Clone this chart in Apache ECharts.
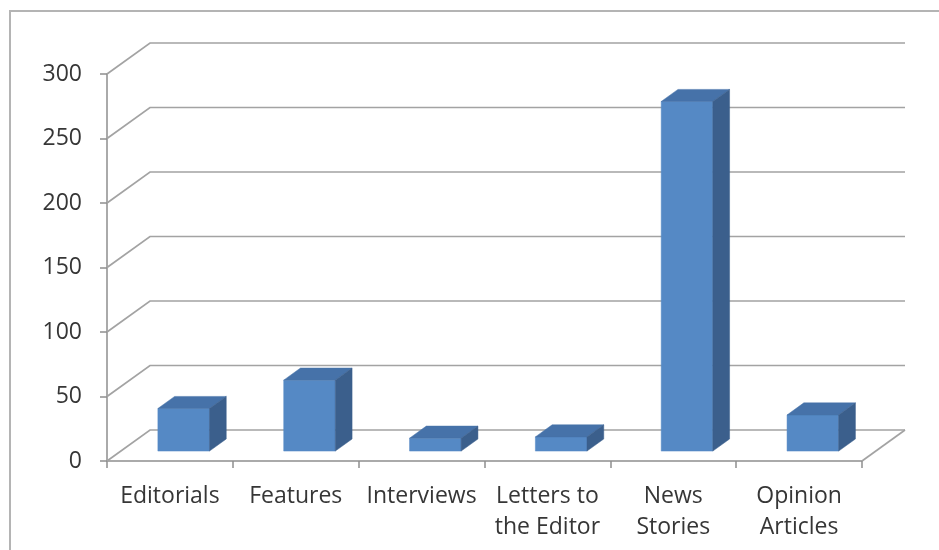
<!DOCTYPE html>
<html>
<head>
<meta charset="utf-8">
<script src="https://cdn.jsdelivr.net/npm/echarts@6/dist/echarts.min.js"></script>
<style>
  html, body { margin: 0; padding: 0; background: #ffffff; }
  #chart { width: 939px; height: 550px; }
</style>
</head>
<body>
<div id="chart"></div>
<script>
// Article counts by type
const categories = ['Editorials', 'Features', 'Interviews', 'Letters to\nthe Editor', 'News\nStories', 'Opinion\nArticles'];
const counts = [33, 55, 10, 11, 271, 28];
const yTicks = [0, 50, 100, 150, 200, 250, 300];

// Oblique projection of the chart depth (pixels for full depth)
const DEPTH_DX = 43;
const DEPTH_DY = -31;
const BAR_FRONT = 0.32;   // where the bar's front face sits in the depth
const BAR_DEPTH = 0.39;   // how deep each bar is
const BAR_WIDTH = 0.41;   // fraction of category band

const FONT = '"Open Sans", Lato, sans-serif';
const AXIS_GREY = '#8e8e8e';
const GRID_GREY = '#a3a3a3';

const colFront = '#5589c5';
const colTop = '#4672a9';
const colSide = '#3b5f8c';

const chart = echarts.init(document.getElementById('chart'), null, { renderer: 'canvas' });

function shift(p, f) {
  return [p[0] + DEPTH_DX * f, p[1] + DEPTH_DY * f];
}

chart.setOption({
  animation: false,
  backgroundColor: '#ffffff',
  graphic: [{
    type: 'rect',
    shape: { x: 10, y: 11, width: 1200, height: 1200 },
    style: { fill: 'none', stroke: '#b4b4b4', lineWidth: 2 },
    z: 0
  }],
  grid: { left: 107, right: 77, top: 74, bottom: 89 },
  xAxis: [{
    type: 'category',
    data: categories,
    boundaryGap: true,
    axisLine: { show: true, lineStyle: { color: AXIS_GREY, width: 1.5 } },
    axisTick: { show: true, length: 7, lineStyle: { color: AXIS_GREY, width: 1.5 } },
    axisLabel: {
      show: true, margin: 20, color: '#363636', fontSize: 23, fontFamily: FONT,
      lineHeight: 31, interval: 0
    },
    splitLine: { show: false }
  }, {
    type: 'value', min: 0, max: categories.length, show: false
  }],
  yAxis: {
    type: 'value', min: 0, max: 300, interval: 50,
    axisLine: { show: true, lineStyle: { color: AXIS_GREY, width: 1.5 } },
    axisTick: { show: true, length: 7, lineStyle: { color: AXIS_GREY, width: 1.5 } },
    axisLabel: { margin: 25, color: '#363636', fontSize: 23, fontFamily: FONT },
    splitLine: { show: false }
  },
  series: [{
    // back wall grid lines with their side diagonals, plus the floor
    type: 'custom',
    xAxisIndex: 1,
    clip: false,
    z: 1,
    data: yTicks.map(v => [0, v]),
    renderItem: function (params, api) {
      const v = api.value(1);
      const left = api.coord([0, v]);
      const right = api.coord([categories.length, v]);
      const children = [{
        type: 'polyline',
        shape: { points: [left, shift(left, 1), shift(right, 1)] },
        style: { stroke: GRID_GREY, lineWidth: 1.7, fill: 'none' }
      }];
      if (v === 0) {
        children.push({
          type: 'line',
          shape: { x1: right[0], y1: right[1], x2: shift(right, 1)[0], y2: shift(right, 1)[1] },
          style: { stroke: GRID_GREY, lineWidth: 1.7 }
        });
      }
      return { type: 'group', children: children };
    }
  }, {
    // 3D columns
    type: 'custom',
    xAxisIndex: 0,
    clip: false,
    z: 3,
    data: counts.map((v, i) => [i, v]),
    renderItem: function (params, api) {
      const i = api.value(0);
      const v = api.value(1);
      const top = api.coord([i, v]);
      const base = api.coord([i, 0]);
      const band = api.size([1, 0])[0];
      const w = band * BAR_WIDTH;
      const fl = shift([top[0] - w / 2, base[1]], BAR_FRONT);
      const fr = shift([top[0] + w / 2, base[1]], BAR_FRONT);
      const tl = shift([top[0] - w / 2, top[1]], BAR_FRONT);
      const tr = shift([top[0] + w / 2, top[1]], BAR_FRONT);
      const btl = shift(tl, BAR_DEPTH);
      const btr = shift(tr, BAR_DEPTH);
      const bbr = shift(fr, BAR_DEPTH);
      return {
        type: 'group',
        children: [{
          type: 'polygon',
          shape: { points: [fl, fr, tr, tl] },
          style: { fill: colFront, stroke: colFront, lineWidth: 0.5 }
        }, {
          type: 'polygon',
          shape: { points: [tl, tr, btr, btl] },
          style: { fill: colTop, stroke: colTop, lineWidth: 0.5 }
        }, {
          type: 'polygon',
          shape: { points: [fr, bbr, btr, tr] },
          style: { fill: colSide, stroke: colSide, lineWidth: 0.5 }
        }]
      };
    }
  }]
});
</script>
</body>
</html>
